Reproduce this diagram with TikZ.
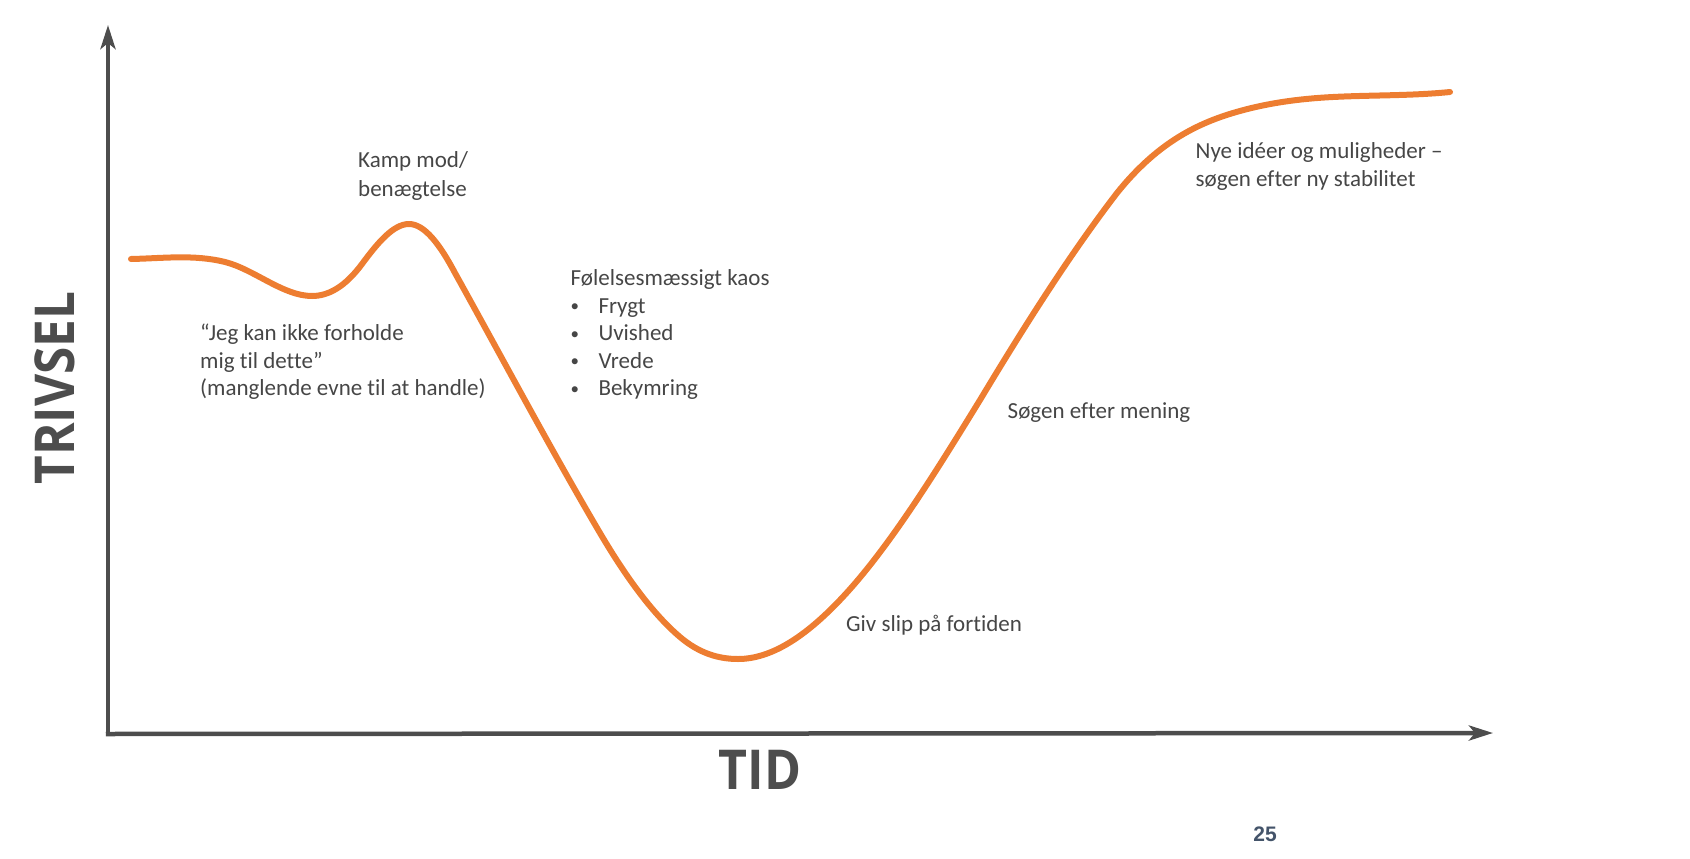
\documentclass[tikz,border=0pt]{standalone}
\usepackage{fontspec}
\setmainfont{Carlito}[Ligatures=NoCommon]
\newfontfamily\axisfont{Open Sans}
\newfontfamily\numfont{Liberation Sans}
\usetikzlibrary{arrows.meta}
\definecolor{curveorange}{HTML}{ED7D31}
\definecolor{axisgray}{HTML}{4D4D4D}
\definecolor{txtgray}{HTML}{464646}
\definecolor{numblue}{HTML}{44546A}
\tikzset{
  axisline/.style={draw=axisgray, line width=4.5pt, -{Stealth[length=24pt,width=15pt,inset=6pt]}},
  curveline/.style={draw=curveorange, line width=6pt, line cap=round, line join=round},
  lbl/.style={anchor=base west, inner sep=0pt, text=txtgray, font=\fontsize{23}{27.6}\selectfont},
  bul/.style={anchor=base west, inner sep=0pt, text=txtgray, font=\fontsize{17}{20}\selectfont},
  bigaxis/.style={inner sep=0pt, text=axisgray, font=\axisfont\bfseries\fontsize{55}{60}\selectfont},
}
\begin{document}
\begin{tikzpicture}[x=1pt,y=-1pt]
\useasboundingbox (0,0) rectangle (1690,859);
% axes
\coordinate (O) at (108,734);
\coordinate (ytop) at (108,25);
\coordinate (xend) at (1493,733);
\draw[axisline] (O) -- (ytop);
\draw[axisline] ([xshift=-2.25pt]O) -- (xend);
% curve
\draw[curveline] (131,259)
  .. controls (162.3,258.4) and (193.7,254.2) .. (225,262)
  .. controls (254,269.25) and (283,296) .. (312,296)
  .. controls (328.7,296) and (345.3,286.5) .. (362,264)
  .. controls (377.7,242.8) and (393.3,224) .. (409,224)
  .. controls (424.3,224) and (439.7,244) .. (455,273)
  .. controls (503.3,360) and (551.7,451) .. (600,533)
  .. controls (626.7,578.3) and (653.3,614.3) .. (680,637)
  .. controls (699.3,653.4) and (718.7,659) .. (738,659)
  .. controls (772,659) and (806,635.7) .. (840,600)
  .. controls (886.7,551) and (933.3,476) .. (980,400)
  .. controls (1025.7,324) and (1071.3,252.4) .. (1117,193)
  .. controls (1155.7,144.7) and (1194.3,124.6) .. (1233,113)
  .. controls (1266.3,103) and (1299.7,98.7) .. (1333,97)
  .. controls (1372,95) and (1411,95.9) .. (1450,92);
% labels
\node[lbl] (kamp) at (358,167.7) {Kamp mod/};
\node[lbl] (benaeg) at (358,196) {benægtelse};
\node[lbl] (q1) at (200,340.7) {“Jeg kan ikke forholde};
\node[lbl] (q2) at (200,368.3) {mig til dette”};
\node[lbl] (q3) at (200,395.5) {(manglende evne til at handle)};
\node[lbl] (kaos) at (570.5,285.7) {Følelsesmæssigt kaos};
\node[bul] (b1) at (570.5,311.8) {•};
\node[lbl] (t1) at (598.3,313.3) {Frygt};
\node[bul] (b2) at (570.5,339.3) {•};
\node[lbl] (t2) at (598.3,340.8) {Uvished};
\node[bul] (b3) at (570.5,366.8) {•};
\node[lbl] (t3) at (598.3,368.3) {Vrede};
\node[bul] (b4) at (570.5,394.3) {•};
\node[lbl] (t4) at (598.3,395.8) {Bekymring};
\node[lbl] (nye1) at (1195.5,158.3) {Nye idéer og muligheder –};
\node[lbl] (nye2) at (1195.5,186) {søgen efter ny stabilitet};
\node[lbl] (mening) at (1007.5,418.5) {Søgen efter mening};
\node[lbl] (giv) at (846,631.7) {Giv slip på fortiden};
\node[bigaxis, rotate=90] (trivsel) at (55,388) {\scalebox{0.9}[1]{TRIVSEL}};
\node[bigaxis] (tid) at (760,770) {\scalebox{0.91}[1]{TID}};
\node[inner sep=0pt, text=numblue, font=\numfont\bfseries\fontsize{21}{24}\selectfont] (pg) at (1265,834) {25};
\end{tikzpicture}
\end{document}
